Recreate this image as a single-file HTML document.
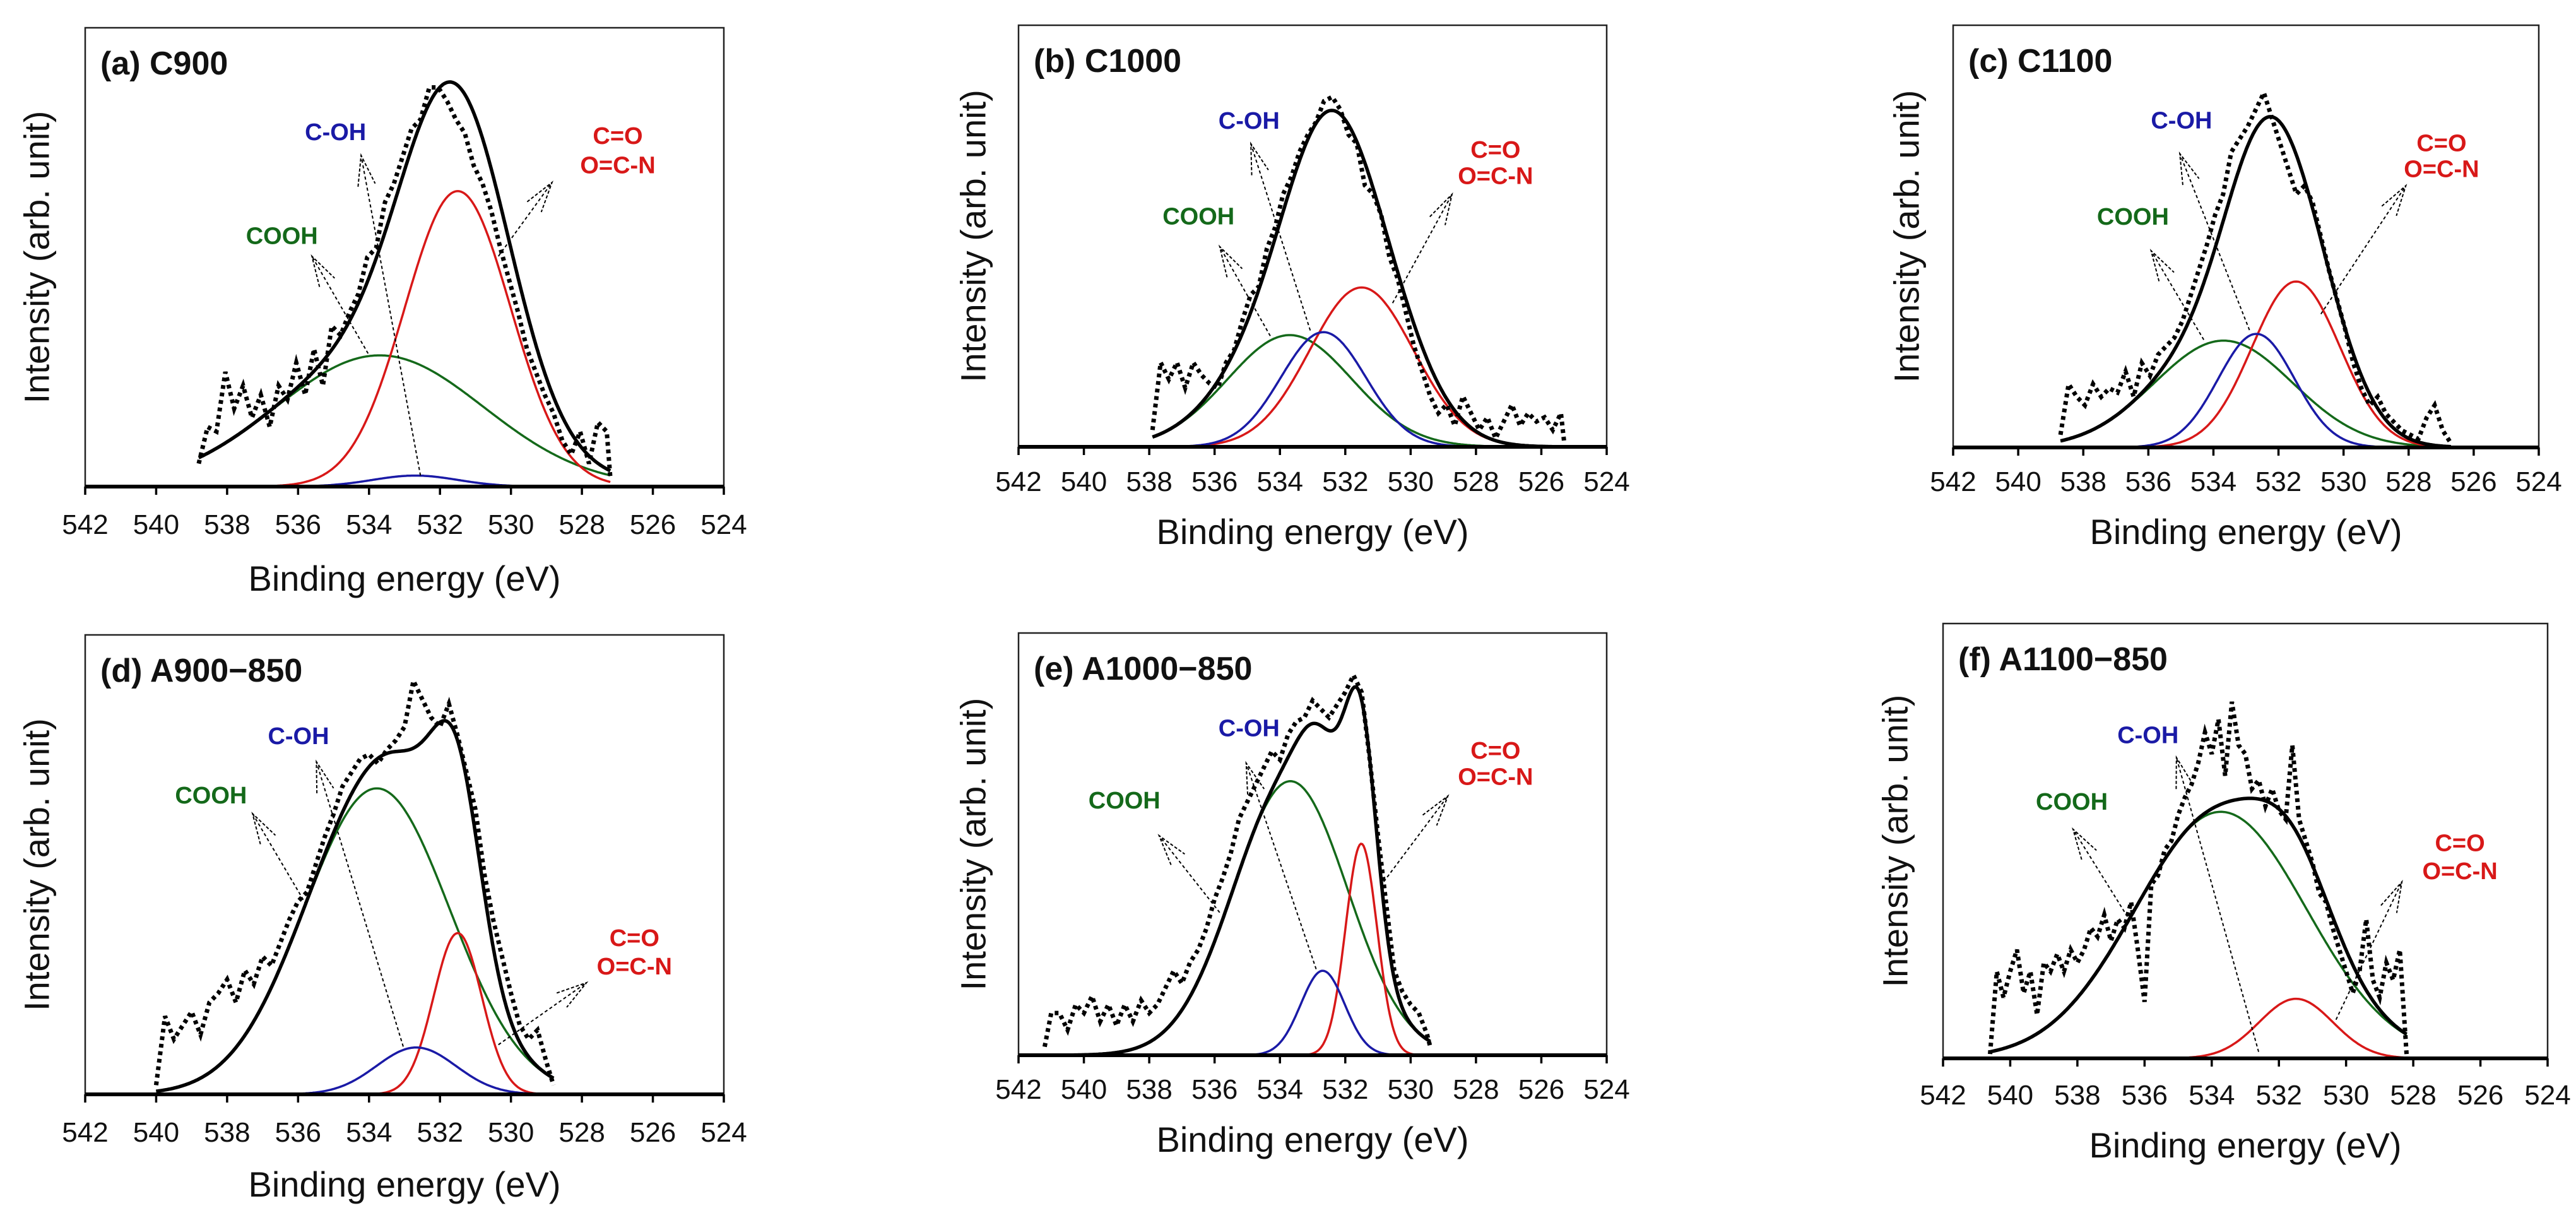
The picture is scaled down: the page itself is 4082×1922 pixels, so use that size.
<!DOCTYPE html>
<html><head><meta charset="utf-8">
<style>
html,body{margin:0;padding:0;background:#fff;}
svg{display:block;font-family:"Liberation Sans",Arial,sans-serif;}
</style></head>
<body>
<svg id="fig" width="4082" height="1922" viewBox="0 0 4082 1922" xmlns="http://www.w3.org/2000/svg"></svg>
<script>
// ---------- data (intensities as fraction of plot height) ----------
const xTicks = [542,540,538,536,534,532,530,528,526,524];
const componentNames = ["COOH","C-OH","C=O"];

// (a) C900
const aEnergy = [538.8,538.55,538.3,538.05,537.8,537.55,537.3,537.05,536.8,536.55,536.3,536.05,535.8,535.55,535.3,535.05,534.8,534.55,534.3,534.05,533.8,533.55,533.3,533.05,532.8,532.55,532.3,532.05,531.8,531.55,531.3,531.05,530.8,530.55,530.3,530.05,529.8,529.55,529.3,529.05,528.8,528.55,528.3,528.05,527.8,527.55,527.3,527.2];
const aIntensity = [0.05,0.13,0.12,0.25,0.17,0.22,0.15,0.2,0.13,0.22,0.19,0.27,0.2,0.3,0.22,0.35,0.33,0.38,0.42,0.5,0.52,0.62,0.66,0.72,0.78,0.8,0.87,0.87,0.84,0.8,0.77,0.7,0.66,0.6,0.52,0.45,0.38,0.3,0.25,0.2,0.16,0.1,0.07,0.12,0.05,0.14,0.12,0.02];
const aCenters = [533.7,532.7,531.5];
const aHeights = [0.286,0.024,0.644];
const aSigmas  = [2.93,1.2,1.49];

// (b) C1000
const bEnergy = [537.9,537.65,537.4,537.15,536.9,536.65,536.4,536.15,535.9,535.65,535.4,535.15,534.9,534.65,534.4,534.15,533.9,533.65,533.4,533.15,532.9,532.65,532.4,532.15,531.9,531.65,531.4,531.15,530.9,530.65,530.4,530.15,529.9,529.65,529.4,529.15,528.9,528.65,528.4,528.15,527.9,527.65,527.4,527.15,526.9,526.65,526.4,526.15,525.9,525.65,525.4,525.3];
const bIntensity = [0.04,0.2,0.16,0.2,0.14,0.2,0.17,0.15,0.14,0.2,0.23,0.3,0.36,0.38,0.47,0.52,0.6,0.64,0.7,0.74,0.77,0.82,0.83,0.8,0.74,0.72,0.62,0.6,0.55,0.45,0.4,0.32,0.24,0.18,0.12,0.08,0.1,0.05,0.12,0.08,0.04,0.07,0.02,0.06,0.1,0.05,0.08,0.06,0.07,0.04,0.08,0.01];
const bCenters = [533.7,532.67,531.5];
const bHeights = [0.265,0.272,0.378];
const bSigmas  = [1.9,1.3,1.59];

// (c) C1100
const cEnergy = [538.7,538.45,538.2,537.95,537.7,537.45,537.2,536.95,536.7,536.45,536.2,535.95,535.7,535.45,535.2,534.95,534.7,534.45,534.2,533.95,533.7,533.45,533.2,532.95,532.7,532.45,532.2,531.95,531.7,531.45,531.2,530.95,530.7,530.45,530.2,529.95,529.7,529.45,529.2,528.95,528.7,528.45,528.2,527.95,527.7,527.45,527.2,526.95,526.7];
const cIntensity = [0.03,0.15,0.12,0.1,0.15,0.12,0.14,0.13,0.18,0.12,0.2,0.17,0.22,0.24,0.26,0.3,0.36,0.42,0.48,0.55,0.6,0.7,0.73,0.76,0.8,0.84,0.78,0.72,0.66,0.6,0.62,0.58,0.5,0.42,0.35,0.28,0.2,0.14,0.1,0.12,0.08,0.06,0.04,0.03,0.02,0.07,0.1,0.04,0.01];
const cCenters = [533.69,532.68,531.46];
const cHeights = [0.253,0.269,0.393];
const cSigmas  = [2.12,1.17,1.35];

// (d) A900-850
const dEnergy = [540,539.75,539.5,539.25,539,538.75,538.5,538.25,538,537.75,537.5,537.25,537,536.75,536.5,536.25,536,535.75,535.5,535.25,535,534.75,534.5,534.25,534,533.75,533.5,533.25,533,532.75,532.5,532.25,532,531.75,531.5,531.25,531,530.75,530.5,530.25,530,529.75,529.5,529.25,529,528.8];
const dIntensity = [0.02,0.17,0.12,0.15,0.18,0.13,0.2,0.22,0.25,0.2,0.27,0.24,0.3,0.28,0.33,0.38,0.42,0.44,0.5,0.56,0.61,0.67,0.7,0.73,0.74,0.72,0.75,0.77,0.8,0.9,0.86,0.82,0.8,0.85,0.78,0.7,0.62,0.48,0.38,0.3,0.22,0.15,0.12,0.14,0.07,0.02];
const dCenters = [533.78,532.67,531.5];
const dHeights = [0.666,0.102,0.351];
const dSigmas  = [2.05,1.12,0.68];

// (e) A1000-850
const eEnergy = [541.2,541,540.75,540.5,540.25,540,539.75,539.5,539.25,539,538.75,538.5,538.25,538,537.75,537.5,537.25,537,536.75,536.5,536.25,536,535.75,535.5,535.25,535,534.75,534.5,534.25,534,533.75,533.5,533.25,533,532.75,532.5,532.25,532,531.75,531.5,531.25,531,530.75,530.5,530.25,530,529.75,529.5,529.4];
const eIntensity = [0.02,0.1,0.1,0.06,0.12,0.1,0.14,0.08,0.12,0.07,0.12,0.08,0.13,0.1,0.12,0.16,0.2,0.17,0.22,0.25,0.3,0.37,0.42,0.48,0.56,0.6,0.64,0.68,0.72,0.7,0.76,0.79,0.8,0.84,0.82,0.8,0.83,0.86,0.9,0.86,0.7,0.52,0.36,0.2,0.15,0.12,0.1,0.05,0.02];
const eCenters = [533.68,532.69,531.51];
const eHeights = [0.649,0.2,0.501];
const eSigmas  = [1.75,0.67,0.48];

// (f) A1100-850
const fEnergy = [540.6,540.4,540.2,540,539.8,539.6,539.4,539.2,539,538.8,538.6,538.4,538.2,538,537.8,537.6,537.4,537.2,537,536.8,536.6,536.4,536.2,536,535.8,535.6,535.4,535.2,535,534.8,534.6,534.4,534.2,534,533.8,533.6,533.4,533.2,533,532.8,532.6,532.4,532.2,532,531.8,531.6,531.4,531.2,531,530.8,530.6,530.4,530.2,530,529.8,529.6,529.4,529.2,529,528.8,528.6,528.4,528.2];
const fIntensity = [0.01,0.2,0.14,0.2,0.25,0.15,0.2,0.1,0.22,0.2,0.24,0.2,0.25,0.22,0.25,0.3,0.28,0.33,0.27,0.32,0.3,0.36,0.25,0.13,0.4,0.42,0.48,0.5,0.56,0.6,0.63,0.68,0.75,0.7,0.78,0.65,0.82,0.72,0.7,0.62,0.64,0.58,0.62,0.57,0.55,0.72,0.55,0.5,0.45,0.38,0.36,0.3,0.25,0.2,0.15,0.2,0.32,0.18,0.14,0.22,0.18,0.25,0.01];
const fCenters = [533.73,532.7,531.49];
const fHeights = [0.567,0.0,0.137];
const fSigmas  = [2.55,1.0,1.1];

// ---------- layout ----------
const panels = [
 {id:"a", title:"(a) C900", L:135,R:1147,T:44,B:771, tickDy:60, titleDy:146, yLabDx:77, energy:aEnergy, inten:aIntensity, centers:aCenters, heights:aHeights, sigmas:aSigmas,
  ann:{coh:[.392,.227], co:[.834,.235], ocn:[.834,.299], cooh:[.308,.453], acoh:[.525,.976,.432,.278], aco:[.647,.498,.731,.337], acooh:[.443,.71,.355,.498]}},
 {id:"b", title:"(b) C1000", L:1614,R:2546,T:40,B:708, tickDy:55, titleDy:135, yLabDx:72, energy:bEnergy, inten:bIntensity, centers:bCenters, heights:bHeights, sigmas:bSigmas,
  ann:{coh:[.392,.226], co:[.811,.295], ocn:[.811,.357], cooh:[.306,.453], acoh:[.496,.724,.395,.281], aco:[.636,.659,.737,.401], acooh:[.428,.737,.342,.525]}},
 {id:"c", title:"(c) C1100", L:3095,R:4023,T:40,B:709, tickDy:54, titleDy:134, yLabDx:74, energy:cEnergy, inten:cIntensity, centers:cCenters, heights:cHeights, sigmas:cSigmas,
  ann:{coh:[.39,.225], co:[.834,.279], ocn:[.834,.34], cooh:[.307,.453], acoh:[.506,.722,.387,.304], aco:[.628,.684,.773,.38], acooh:[.428,.745,.338,.534]}},
 {id:"d", title:"(d) A900\u2212850", L:135,R:1147,T:1006,B:1734, tickDy:60, titleDy:143, yLabDx:77, energy:dEnergy, inten:dIntensity, centers:dCenters, heights:dHeights, sigmas:dSigmas,
  ann:{coh:[.334,.22], co:[.86,.659], ocn:[.86,.721], cooh:[.197,.349], acoh:[.498,.896,.362,.276], aco:[.647,.892,.785,.757], acooh:[.346,.587,.262,.389]}},
 {id:"e", title:"(e) A1000\u2212850", L:1614,R:2546,T:1003,B:1672, tickDy:54, titleDy:134, yLabDx:72, energy:eEnergy, inten:eIntensity, centers:eCenters, heights:eHeights, sigmas:eSigmas,
  ann:{coh:[.392,.225], co:[.811,.278], ocn:[.811,.34], cooh:[.18,.396], acoh:[.506,.796,.387,.308], aco:[.621,.589,.73,.386], acooh:[.342,.662,.239,.48]}},
 {id:"f", title:"(f) A1100\u2212850", L:3079,R:4037,T:988,B:1677, tickDy:58, titleDy:138, yLabDx:76, energy:fEnergy, inten:fIntensity, centers:fCenters, heights:fHeights, sigmas:fSigmas,
  ann:{coh:[.339,.256], co:[.855,.504], ocn:[.855,.569], cooh:[.213,.409], acoh:[.522,.985,.386,.308], aco:[.65,.911,.759,.594], acooh:[.305,.674,.215,.473]}}
];
const compColors = ["#14691a","#1a1aa6","#d81818"];
const NS = "http://www.w3.org/2000/svg";
const svg = document.getElementById("fig");
function mk(tag, attrs, parent){
  const el = document.createElementNS(NS, tag);
  for (const k in attrs) el.setAttribute(k, attrs[k]);
  (parent||svg).appendChild(el);
  return el;
}
function gauss(x, c, h, s){ return h*Math.exp(-((x-c)*(x-c))/(2*s*s)); }

panels.forEach(p => {
  const g = mk("g", {});
  
  
  const W = p.R - p.L, H = p.B - p.T;
  const xs = e => p.L + (542 - e) / 18 * W;
  const ys = v => p.B - v * H;

  // frame
  const frame = mk("rect", {x:p.L, y:p.T, width:W, height:H, fill:"none", stroke:"#222", "stroke-width":2.5}, g);
  
  

  // components & envelope
  const e0 = p.energy[0], e1 = p.energy[p.energy.length-1];
  const comps = [[],[],[]], env = [];
  for (let e = e0; e >= e1 - 1e-9; e -= 0.04) {
    let sum = 0;
    for (let k = 0; k < 3; k++) {
      const v = gauss(e, p.centers[k], p.heights[k], p.sigmas[k]);
      sum += v;
      comps[k].push(xs(e).toFixed(1) + "," + ys(v).toFixed(1));
    }
    env.push(xs(e).toFixed(1) + "," + ys(sum).toFixed(1));
  }
  [0,2,1].forEach(k => {
    const pl = mk("polyline", {points:comps[k].join(" "), fill:"none", stroke:compColors[k], "stroke-width":3.5}, g);
    
    
  });
  const envl = mk("polyline", {points:env.join(" "), fill:"none", stroke:"#000", "stroke-width":5.5}, g);
  
  

  // experimental data (dotted)
  const pts = p.energy.map((e,i) => xs(e).toFixed(1) + "," + ys(p.inten[i]).toFixed(1)).join(" ");
  const dl = mk("polyline", {points:pts, fill:"none", stroke:"#000", "stroke-width":7, "stroke-dasharray":"6 6"}, g);
  
  

  // x axis
  const ax = mk("line", {x1:p.L, x2:p.R, y1:p.B, y2:p.B, stroke:"#000", "stroke-width":6}, g);
  
  
  xTicks.forEach(t => {
    const tk = mk("line", {x1:xs(t), x2:xs(t), y1:p.B, y2:p.B+13, stroke:"#000", "stroke-width":3.5}, g);
    
    
    const tl = mk("text", {x:xs(t), y:p.B+p.tickDy+15, "text-anchor":"middle", "font-size":44, fill:"#111"}, g);
    tl.textContent = t;
    
    
  });
  const xt = mk("text", {x:(p.L+p.R)/2, y:p.B+p.titleDy+19, "text-anchor":"middle", "font-size":56, fill:"#111"}, g);
  xt.textContent = "Binding energy (eV)";
  
  
  const yx = p.L - p.yLabDx, yy = (p.T + p.B) / 2;
  const yt = mk("text", {x:yx, y:yy, "text-anchor":"middle", "dominant-baseline":"central", "font-size":56, fill:"#111", transform:"rotate(-90 "+yx+" "+yy+")"}, g);
  yt.textContent = "Intensity (arb. unit)";
  
  

  // panel label
  const pl = mk("text", {x:p.L+24, y:p.T+74, "font-size":52, "font-weight":"bold", fill:"#111"}, g);
  pl.textContent = p.title;
  
  

  // annotations
  const fx = f => p.L + f * W, fy = f => p.T + f * H;
  function label(pos, txt, col, name){
    const t = mk("text", {x:fx(pos[0]), y:fy(pos[1])+13, "text-anchor":"middle", "font-size":38, "font-weight":"bold", fill:col}, g);
    t.textContent = txt;
    
    
  }
  function arrow(a, name){
    const x1 = fx(a[0]), y1 = fy(a[1]), x2 = fx(a[2]), y2 = fy(a[3]);
    const ln = mk("line", {x1:x1, y1:y1, x2:x2, y2:y2, stroke:"#000", "stroke-width":2, "stroke-dasharray":"5 4"}, g);
    
    
    const ang = Math.atan2(y1-y2, x1-x2), len = 50, spread = 0.28;
    const hx1 = x2 + len*Math.cos(ang+spread), hy1 = y2 + len*Math.sin(ang+spread);
    const hx2 = x2 + len*Math.cos(ang-spread), hy2 = y2 + len*Math.sin(ang-spread);
    const hd = mk("polyline", {points:hx1+","+hy1+" "+x2+","+y2+" "+hx2+","+hy2, fill:"none", stroke:"#000", "stroke-width":2, "stroke-dasharray":"5 3"}, g);
    
    
  }
  label(p.ann.coh, "C-OH", "#1a1aa6", "label-c-oh");
  label(p.ann.co, "C=O", "#d81818", "label-c-o");
  label(p.ann.ocn, "O=C-N", "#d81818", "label-o-c-n");
  label(p.ann.cooh, "COOH", "#14691a", "label-cooh");
  arrow(p.ann.acoh, "arrow-c-oh");
  arrow(p.ann.aco, "arrow-c-o");
  arrow(p.ann.acooh, "arrow-cooh");
});
</script>
</body></html>
